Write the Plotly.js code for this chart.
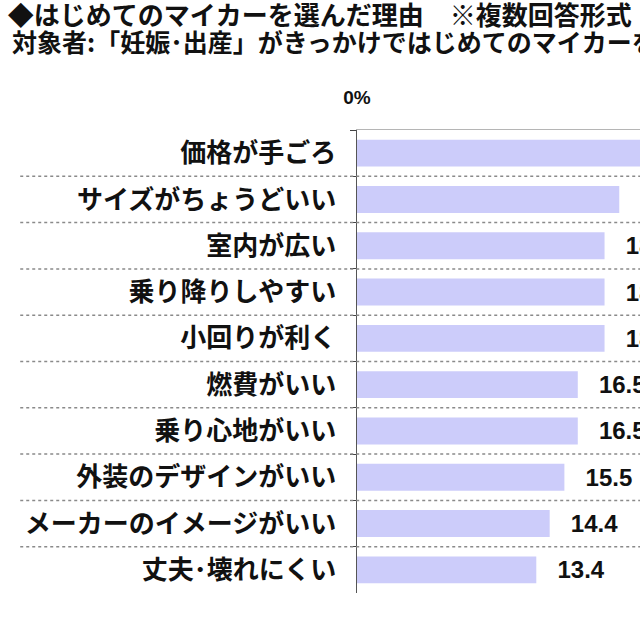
<!DOCTYPE html>
<html>
<head>
<meta charset="utf-8">
<script src="https://cdn.plot.ly/plotly-3.0.1.min.js"></script>
<style>
  body { margin: 0; background: #fff; }
  #chart { width: 640px; height: 640px; }
</style>
</head>
<body>
<div id="chart"></div>
<script>
// reasons, top to bottom
var reasons = ['価格が手ごろ', 'サイズがちょうどいい', '室内が広い', '乗り降りしやすい', '小回りが利く',
  '燃費がいい', '乗り心地がいい', '外装のデザインがいい', 'メーカーのイメージがいい', '丈夫･壊れにくい'];
// percent (first one is cut off in the picture, estimated)
var percents = [24.4, 19.6, 18.5, 18.5, 18.5, 16.5, 16.5, 15.5, 14.4, 13.4];
var xTicks = [0];
var xTickText = ['0%'];

var titleLine1 = '◆はじめてのマイカーを選んだ理由\u3000※複数回答形式';
var titleLine2 = '対象者:「妊娠･出産」がきっかけではじめてのマイカーを購入した人';

var jp = 'Noto Sans CJK JP, sans-serif';

function drawChart() {
  var data = [{
    type: 'bar',
    orientation: 'h',
    x: percents,
    y: reasons,
    marker: { color: '#ccccfa', line: { width: 0 } },
    texttemplate: '\u00a0\u00a0\u2009%{x:.1f}',
    textposition: 'outside',
    constraintext: 'none',
    textfont: { family: 'Liberation Sans, Arial, sans-serif', size: 24, color: '#111', weight: 'bold' },
    hoverinfo: 'skip'
  }];

  // dotted separators between rows, running under the labels too
  var shapes = [];
  for (var i = 0; i < reasons.length - 1; i++) {
    shapes.push({
      type: 'line', xref: 'paper', yref: 'y',
      x0: -1.19, x1: 1, y0: i + 0.5, y1: i + 0.5,
      line: { color: '#8a8a8a', width: 1.5, dash: 'dot' }
    });
  }

  var layout = {
    width: 640,
    height: 640,
    margin: { l: 357, r: 0, t: 130, b: 47 },
    paper_bgcolor: '#fff',
    plot_bgcolor: '#fff',
    showlegend: false,
    bargap: 0.42,
    title: {
      text: titleLine1,
      xref: 'container', yref: 'container',
      x: 0.012, xanchor: 'left',
      y: 1 - 16 / 640, yanchor: 'middle',
      font: { family: jp, size: 26, color: '#111', weight: 'bold' }
    },
    annotations: [{
      text: titleLine2,
      xref: 'paper', yref: 'paper',
      x: -347 / 283, xanchor: 'left',
      y: 1 + 89 / 463, yanchor: 'middle',
      showarrow: false,
      font: { family: jp, size: 25, color: '#111', weight: 'bold' }
    }],
    xaxis: {
      side: 'top',
      range: [0, 21.15],
      tickvals: xTicks,
      ticktext: xTickText,
      ticks: '',
      ticklabelstandoff: 17,
      tickfont: { family: 'Liberation Sans, Arial, sans-serif', size: 19, color: '#111', weight: 'bold' },
      showgrid: false,
      zeroline: false,
      showline: true,
      linecolor: '#b5b5b5',
      linewidth: 1.5,
      fixedrange: true
    },
    yaxis: {
      type: 'category',
      autorange: 'reversed',
      tickson: 'boundaries',
      ticks: 'outside',
      ticklen: 6,
      tickcolor: '#444',
      ticklabelstandoff: 14,
      tickfont: { family: jp, size: 26, color: '#111', weight: 'bold' },
      showgrid: false,
      showline: true,
      linecolor: '#555',
      linewidth: 1.5,
      fixedrange: true
    },
    shapes: shapes
  };

  Plotly.newPlot('chart', data, layout, { displayModeBar: false, staticPlot: true });
}

drawChart();
</script>
</body>
</html>
